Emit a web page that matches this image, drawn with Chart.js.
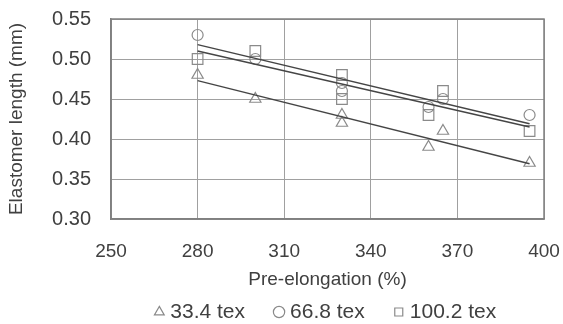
<!DOCTYPE html>
<html lang="en">
<head>
    <meta charset="UTF-8">
    <title>Elastomer length vs pre-elongation</title>
    <script src="https://cdn.jsdelivr.net/npm/chart.js"></script>
    <style>
        body { margin: 0; background: #fff; }
        #wrap { width: 563px; height: 324px; }
    </style>
</head>
<body>
    <div id="wrap"><canvas id="chart"></canvas></div>

    <script>
        // measured points (pre-elongation %, elastomer length mm)
        const preElong = [280, 300, 330, 330, 360, 365, 395];
        const tex334 = [0.48, 0.45, 0.43, 0.42, 0.39, 0.41, 0.37];
        const tex668 = [0.53, 0.50, 0.47, 0.46, 0.44, 0.45, 0.43];
        const tex1002 = [0.50, 0.51, 0.48, 0.45, 0.43, 0.46, 0.41];

        // linear trend lines, end values
        const trendX = [280, 395];
        const trend334 = [0.473, 0.369];
        const trend668 = [0.518, 0.419];
        const trend1002 = [0.510, 0.415];

        const labels = ['33.4 tex', '66.8 tex', '100.2 tex'];

        const pts = (xs, ys) => xs.map((x, i) => ({ x: x, y: ys[i] }));
        const font = { family: 'Liberation Sans', size: 19 };
        const yFont = { family: 'Liberation Sans', size: 20 };
        const legendFont = { family: 'Liberation Sans', size: 21 };
        const textCol = '#404040';
        const clear = 'rgba(0,0,0,0)';

        function markerSet(label, ys, style, r) {
            return {
                label: label,
                data: pts(preElong, ys),
                pointStyle: style,
                pointRadius: r,
                pointBorderColor: '#8a8a8a',
                pointBackgroundColor: clear,
                pointBorderWidth: 1.2,
                borderColor: '#8a8a8a',
                backgroundColor: clear,
                showLine: false
            };
        }

        function trendSet(ys) {
            return {
                label: '',
                data: pts(trendX, ys),
                showLine: true,
                borderColor: '#454545',
                borderWidth: 1.4,
                pointRadius: 0
            };
        }

        new Chart(document.getElementById('chart'), {
            type: 'scatter',
            data: {
                datasets: [
                    trendSet(trend334),
                    trendSet(trend668),
                    trendSet(trend1002),
                    markerSet(labels[0], tex334, 'triangle', 6.5),
                    markerSet(labels[1], tex668, 'circle', 5.5),
                    markerSet(labels[2], tex1002, 'rect', 7.5)
                ]
            },
            options: {
                responsive: true,
                maintainAspectRatio: false,
                animation: false,
                layout: { padding: { left: 0, right: 19, top: 19, bottom: -8.5 } },
                plugins: {
                    tooltip: { enabled: false },
                    legend: {
                        position: 'bottom',
                        fullSize: false,
                        labels: {
                            filter: item => item.text !== '',
                            usePointStyle: true,
                            boxWidth: 1,
                            boxHeight: 8,
                            padding: 33.5,
                            color: textCol,
                            font: legendFont
                        }
                    }
                },
                scales: {
                    x: {
                        min: 250,
                        max: 400,
                        afterFit: s => { s.height = 49; },
                        ticks: { stepSize: 30, color: textCol, font: font, padding: 0 },
                        // invisible tick marks only push the labels down
                        grid: { color: '#a0a0a0', tickLength: 21, tickColor: clear },
                        border: { color: '#808080', width: 1.5 },
                        title: { display: true, text: 'Pre-elongation (%)', color: textCol, font: font, padding: { top: 0, bottom: -23.4 } }
                    },
                    y: {
                        min: 0.30,
                        max: 0.55,
                        afterFit: s => { s.width = 111; },
                        ticks: {
                            stepSize: 0.05,
                            color: textCol,
                            font: yFont,
                            padding: 0,
                            callback: v => v.toFixed(2)
                        },
                        grid: { color: '#a0a0a0', tickLength: 20, tickColor: clear },
                        border: { color: '#808080', width: 1.5 },
                        title: { display: true, text: 'Elastomer length (mm)', color: textCol, font: font, padding: { top: 5, bottom: 0 } }
                    }
                }
            },
            plugins: [{
                id: 'frame',
                afterDraw(chart) {
                    const a = chart.chartArea, c = chart.ctx;
                    c.save();
                    c.strokeStyle = '#808080';
                    c.lineWidth = 1.5;
                    c.strokeRect(a.left, a.top, a.right - a.left, a.bottom - a.top);
                    c.restore();
                }
            }]
        });
    </script>
</body>
</html>
